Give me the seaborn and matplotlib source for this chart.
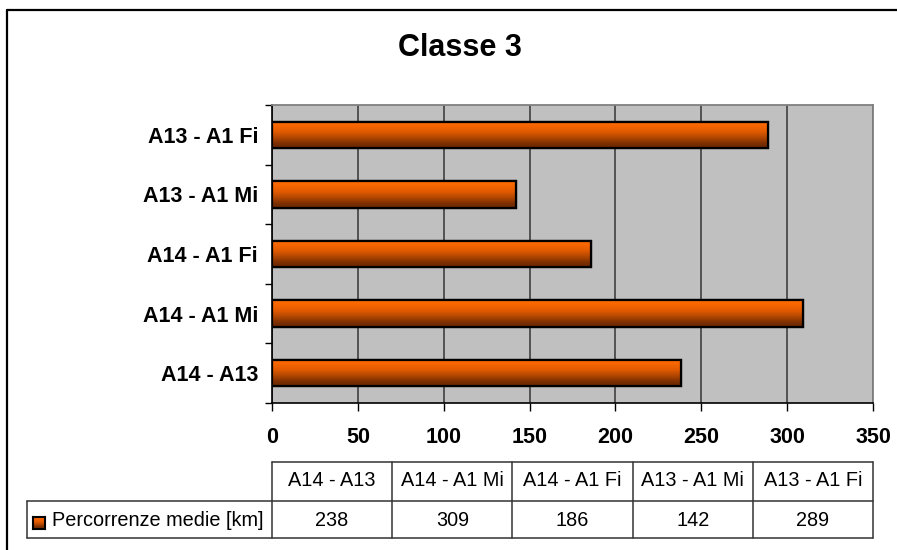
import numpy as np
import pandas as pd
import matplotlib
matplotlib.use("Agg")
import matplotlib.pyplot as plt
import seaborn as sns
from matplotlib.colors import LinearSegmentedColormap
from matplotlib.patches import Rectangle
from matplotlib.lines import Line2D

# Data: average distances per route, class 3
routes = ["A14 - A13", "A14 - A1 Mi", "A14 - A1 Fi", "A13 - A1 Mi", "A13 - A1 Fi"]
distances = [238, 309, 186, 142, 289]
series_name = "Percorrenze medie [km]"
title = "Classe 3"
x_ticks = [0, 50, 100, 150, 200, 250, 300, 350]

W, H = 897, 550
sns.set_theme(style="white")
plt.rcParams["font.family"] = ["Liberation Sans", "DejaVu Sans"]
plt.rcParams["text.color"] = "black"
plt.rcParams["xtick.color"] = "black"
plt.rcParams["ytick.color"] = "black"
plt.rcParams["axes.labelcolor"] = "black"

fig = plt.figure(figsize=(W / 100, H / 100), dpi=100)
fig.patch.set_facecolor("white")


def fx(px):
    return px / W


def fy(py):
    return 1 - py / H


# plot area in pixel coordinates
L, R, T, B = 272, 873, 105, 403
ax = fig.add_axes([fx(L), fy(B), fx(R - L), (B - T) / H])
ax.set_facecolor("#c0c0c0")

df = pd.DataFrame({"route": routes, "km": distances})
# first route at the bottom of the axis, as in a category axis from below
order = routes[::-1]
sns.barplot(data=df, x="km", y="route", order=order, orient="h",
            color="#f06000", width=0.44, edgecolor="black", linewidth=1.6,
            saturation=1, ax=ax, zorder=3)

ax.set_xlim(0, 350)
ax.set_ylim(len(routes) - 0.5, -0.5)
ax.set_xlabel("")
ax.set_ylabel("")

# shaded orange gradient inside each bar
grad_cmap = LinearSegmentedColormap.from_list(
    "bar", ["#ff6c00", "#f46400", "#e05a00", "#b44800", "#843200", "#662600"])
grad = np.linspace(0, 1, 64).reshape(-1, 1)
for p in list(ax.patches):
    x0, y0 = p.get_x(), p.get_y()
    w, h = p.get_width(), p.get_height()
    ymin, ymax = min(y0, y0 + h), max(y0, y0 + h)
    im = ax.imshow(grad, cmap=grad_cmap, aspect="auto", origin="upper",
                   extent=(x0, x0 + w, ymax, ymin), zorder=3.5,
                   interpolation="bilinear")
    im.set_clip_path(p)
    ax.add_patch(Rectangle((x0, y0), w, h, fill=False, edgecolor="black",
                           linewidth=1.6, zorder=4))

ax.set_xlim(0, 350)
ax.set_ylim(len(routes) - 0.5, -0.5)
ax.set_aspect("auto")

# grid and frame
ax.set_axisbelow(True)
ax.set_xticks(x_ticks)
ax.xaxis.grid(True, color="#4a4a4a", linewidth=1.3, zorder=1)
ax.yaxis.grid(False)
for side in ["top", "right"]:
    ax.spines[side].set_color("#808080")
    ax.spines[side].set_linewidth(1.3)
for side in ["left", "bottom"]:
    ax.spines[side].set_color("black")
    ax.spines[side].set_linewidth(1.2)

ax.set_xticklabels([str(v) for v in x_ticks], fontsize=15.5, fontweight="bold",
                   color="black")
ax.tick_params(axis="x", direction="out", length=6, width=1, color="black",
               pad=11, bottom=True)
ax.set_yticks(range(len(order)))
ax.set_yticklabels(order, fontsize=15.5, fontweight="bold", color="black")
ax.tick_params(axis="y", which="major", length=0, pad=10)
ax.set_yticks(np.arange(-0.5, len(order)), minor=True)
ax.tick_params(axis="y", which="minor", direction="out", length=5, width=1,
               color="black", left=True)

# title
fig.text(fx(460), fy(48), title, ha="center", va="center",
         fontsize=22, fontweight="bold", color="black")

# outer chart frame
for xs, ys in [([7, 7], [10, 560]), ([7, 905], [10, 10])]:
    fig.add_artist(Line2D([fx(v) for v in xs], [fy(v) for v in ys],
                          color="black", linewidth=1.6))

# data table below the plot
col_edges = np.linspace(L, R, len(routes) + 1)
t_top, t_mid, t_bot = 462, 501, 538
lab_left = 27
line_kw = dict(color="#333333", linewidth=1.1)
fig.add_artist(Line2D([fx(L), fx(R)], [fy(t_top)] * 2, **line_kw))
for yy in (t_mid, t_bot):
    fig.add_artist(Line2D([fx(lab_left), fx(R)], [fy(yy)] * 2, **line_kw))
fig.add_artist(Line2D([fx(lab_left)] * 2, [fy(t_mid), fy(t_bot)], **line_kw))
for xe in col_edges:
    fig.add_artist(Line2D([fx(xe)] * 2, [fy(t_top), fy(t_bot)], **line_kw))

for i, (route, km) in enumerate(zip(routes, distances)):
    cx = (col_edges[i] + col_edges[i + 1]) / 2
    fig.text(fx(cx), fy(481), route, ha="center", va="center", fontsize=14.3,
             color="black")
    fig.text(fx(cx), fy(520), str(km), ha="center", va="center", fontsize=14.3,
             color="black")

# legend key inside the table
kax = fig.add_axes([fx(33), fy(529), fx(12), 12 / H])
kax.imshow(grad, cmap=grad_cmap, aspect="auto", origin="upper",
           extent=(0, 1, 0, 1), interpolation="bilinear")
kax.set_xticks([])
kax.set_yticks([])
for s in kax.spines.values():
    s.set_color("black")
    s.set_linewidth(1.5)
fig.text(fx(52), fy(520), series_name, ha="left", va="center", fontsize=14.3,
         color="black")

fig.savefig("out.png", dpi=100)
